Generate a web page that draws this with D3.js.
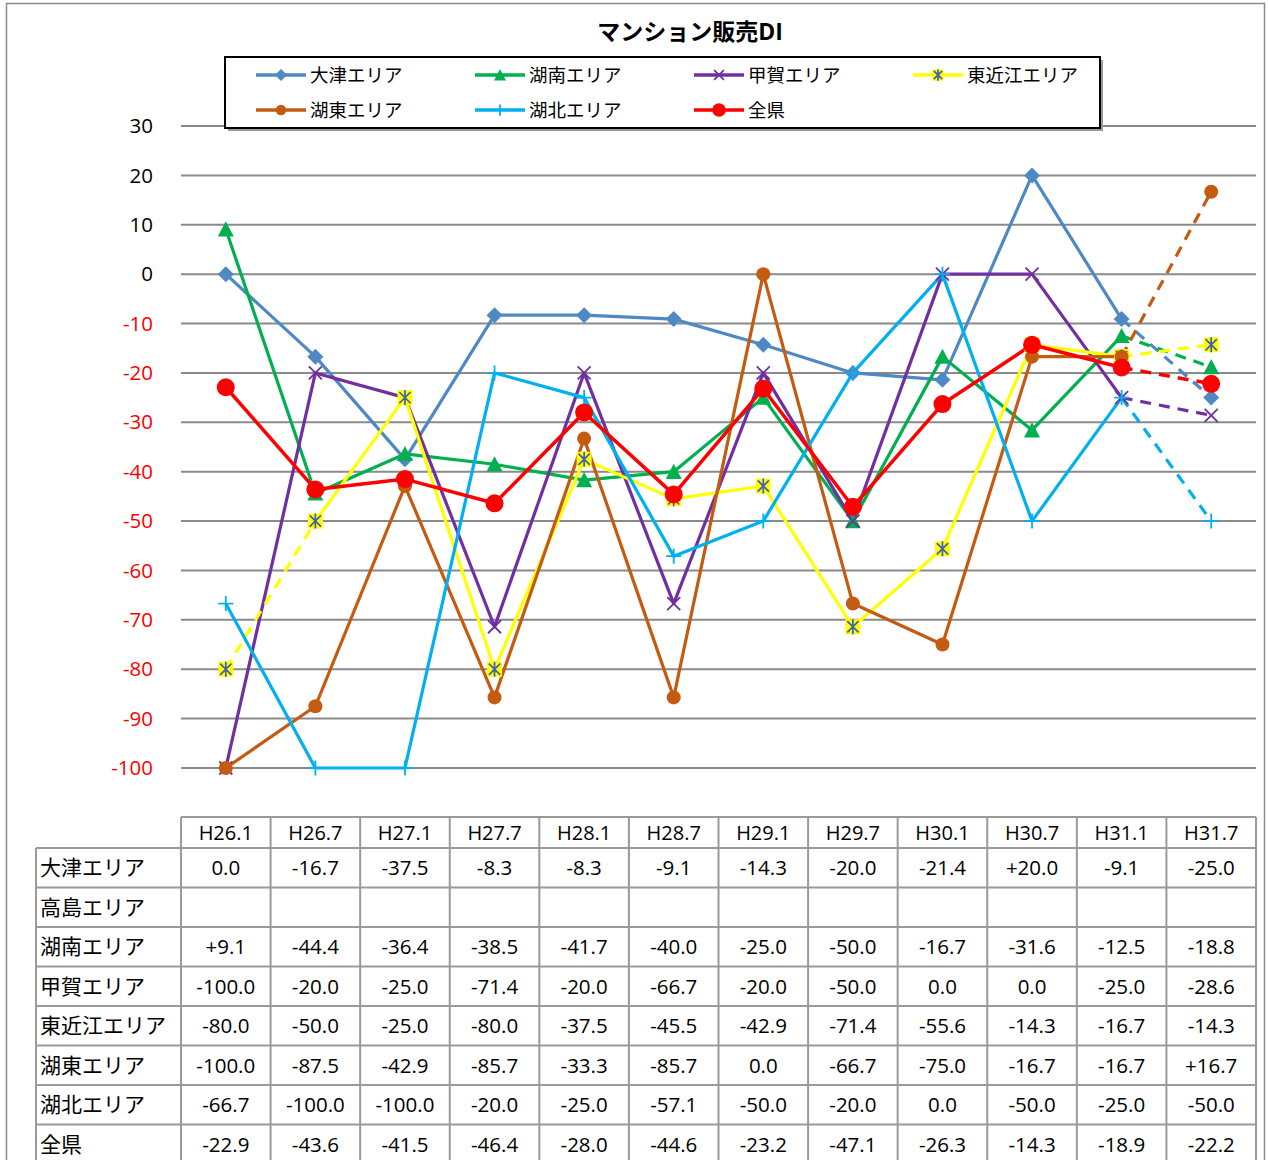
<!DOCTYPE html>
<html>
<head>
<meta charset="utf-8">
<script src="https://cdnjs.cloudflare.com/ajax/libs/d3/7.8.5/d3.min.js"></script>
<style>
  body { margin: 0; background: #fff; }
  text { font-family: "Open Sans", "Noto Sans CJK JP", sans-serif; }
</style>
</head>
<body>
<svg id="chart" width="1268" height="1160"></svg>
<script>
// periods (x categories)
var periods = ["H26.1", "H26.7", "H27.1", "H27.7", "H28.1", "H28.7", "H29.1", "H29.7", "H30.1", "H30.7", "H31.1", "H31.7"];

// DI values per area
var otsu      = [0.0, -16.7, -37.5, -8.3, -8.3, -9.1, -14.3, -20.0, -21.4, 20.0, -9.1, -25.0];
var takashima = [null, null, null, null, null, null, null, null, null, null, null, null];
var konan     = [9.1, -44.4, -36.4, -38.5, -41.7, -40.0, -25.0, -50.0, -16.7, -31.6, -12.5, -18.8];
var koka      = [-100.0, -20.0, -25.0, -71.4, -20.0, -66.7, -20.0, -50.0, 0.0, 0.0, -25.0, -28.6];
var higashiOmi = [-80.0, -50.0, -25.0, -80.0, -37.5, -45.5, -42.9, -71.4, -55.6, -14.3, -16.7, -14.3];
var koto      = [-100.0, -87.5, -42.9, -85.7, -33.3, -85.7, 0.0, -66.7, -75.0, -16.7, -16.7, 16.7];
var kohoku    = [-66.7, -100.0, -100.0, -20.0, -25.0, -57.1, -50.0, -20.0, 0.0, -50.0, -25.0, -50.0];
var zenken    = [-22.9, -43.6, -41.5, -46.4, -28.0, -44.6, -23.2, -47.1, -26.3, -14.3, -18.9, -22.2];

// table rows (高島 has no data) and plotted series (legend order)
var tableNames = ["大津エリア", "高島エリア", "湖南エリア", "甲賀エリア", "東近江エリア", "湖東エリア", "湖北エリア", "全県"];
var tableValues = [otsu, takashima, konan, koka, higashiOmi, koto, kohoku, zenken];
var seriesNames = ["大津エリア", "湖南エリア", "甲賀エリア", "東近江エリア", "湖東エリア", "湖北エリア", "全県"];
var seriesValues = [otsu, konan, koka, higashiOmi, koto, kohoku, zenken];
// segments (index of start point) drawn as estimate (dashed)
var dashedSegs = [[10], [10], [10], [0, 10], [10], [10], [10]];
var yTicks = [30, 20, 10, 0, -10, -20, -30, -40, -50, -60, -70, -80, -90, -100];

function drawChart() {
    var svg = d3.select("#chart");

    var colors = ["#4f89c4", "#00b050", "#7030a0", "#ffff00", "#c55a11", "#00b0f0", "#ff0000"];
    var markers = ["diamond", "triangle", "cross", "star", "circle", "plus", "bigcircle"];

    var plotLeft = 181, plotRight = 1256;

    var x = d3.scaleBand().domain(periods).range([plotLeft, plotRight]),
        y = d3.scaleLinear().domain([-100, 30]).range([768, 126]);

    function cx(i) { return x(periods[i]) + x.bandwidth() / 2; }

    // outer frame
    svg.append("rect")
       .attr("x", 6.5).attr("y", 3.5)
       .attr("width", 1258).attr("height", 1180)
       .attr("fill", "none")
       .attr("stroke", "#8c8c8c")
       .attr("stroke-width", 1.5);

    // title
    svg.append("text")
       .attr("x", 690)
       .attr("y", 40)
       .attr("text-anchor", "middle")
       .attr("font-size", "23px")
       .attr("font-weight", "bold")
       .text("マンション販売DI");

    // gridlines
    svg.append("g")
       .selectAll("line")
       .data(yTicks)
       .enter().append("line")
       .attr("x1", plotLeft).attr("x2", plotRight)
       .attr("y1", function(d) { return y(d); })
       .attr("y2", function(d) { return y(d); })
       .attr("stroke", "#8a8a8a")
       .attr("stroke-width", 2);

    // y axis labels
    svg.append("g")
       .selectAll("text")
       .data(yTicks)
       .enter().append("text")
       .attr("x", 153)
       .attr("y", function(d) { return y(d); })
       .attr("dy", "0.35em")
       .attr("text-anchor", "end")
       .attr("font-size", "20.5px")
       .attr("fill", function(d) { return d < 0 ? "#ff0000" : "#000"; })
       .text(function(d) { return d; });

    // legend
    var legend = svg.append("g");
    legend.append("rect")
          .attr("x", 228).attr("y", 60)
          .attr("width", 875).attr("height", 71)
          .attr("fill", "#9a9a9a");
    legend.append("rect")
          .attr("x", 225).attr("y", 57)
          .attr("width", 875).attr("height", 71)
          .attr("fill", "#fff")
          .attr("stroke", "#000")
          .attr("stroke-width", 2);

    seriesNames.forEach(function(name, s) {
        var col = s < 4 ? s : s - 4,
            row = s < 4 ? 0 : 1,
            lx = 256 + col * 219,
            ly = 75 + row * 35;
        legend.append("line")
              .attr("x1", lx).attr("x2", lx + 50)
              .attr("y1", ly).attr("y2", ly)
              .attr("stroke", colors[s])
              .attr("stroke-width", 3.5);
        drawMarker(legend, markers[s], colors[s], lx + 25, ly, 0.75);
        legend.append("text")
              .attr("x", lx + 54)
              .attr("y", ly)
              .attr("dy", "0.36em")
              .attr("font-size", "18.5px")
              .text(name);
    });

    // lines
    var line = d3.line()
                 .x(function(d) { return cx(d.i); })
                 .y(function(d) { return y(d.v); });

    var lines = svg.append("g");
    seriesValues.forEach(function(vals, s) {
        // group consecutive segments of the same style
        var runs = [];
        for (var i = 0; i < vals.length - 1; i++) {
            var dashed = dashedSegs[s].indexOf(i) >= 0;
            var last = runs[runs.length - 1];
            if (last && last.dashed === dashed) {
                last.pts.push({ i: i + 1, v: vals[i + 1] });
            } else {
                runs.push({ dashed: dashed, pts: [{ i: i, v: vals[i] }, { i: i + 1, v: vals[i + 1] }] });
            }
        }
        runs.forEach(function(r) {
            lines.append("path")
                 .attr("d", line(r.pts))
                 .attr("fill", "none")
                 .attr("stroke", colors[s])
                 .attr("stroke-width", s === 6 ? 3.5 : 3.2)
                 .attr("stroke-linejoin", "round")
                 .attr("stroke-dasharray", r.dashed ? "11,8" : null);
        });
    });

    // markers
    seriesValues.forEach(function(vals, s) {
        var g = svg.append("g");
        vals.forEach(function(v, i) {
            drawMarker(g, markers[s], colors[s], cx(i), y(v), 1);
        });
    });

    // table
    var table = svg.append("g"),
        headTop = 817, headBottom = 848, rowH = 39.5, labelLeft = 36,
        gridColor = "#9a9a9a",
        tableBottom = headBottom + rowH * tableNames.length;

    table.append("line")
         .attr("x1", plotLeft).attr("x2", plotRight)
         .attr("y1", headTop).attr("y2", headTop)
         .attr("stroke", gridColor).attr("stroke-width", 2);

    d3.range(tableNames.length + 1).forEach(function(r) {
        var yy = headBottom + r * rowH;
        table.append("line")
             .attr("x1", labelLeft).attr("x2", plotRight)
             .attr("y1", yy).attr("y2", yy)
             .attr("stroke", gridColor).attr("stroke-width", 2);
    });

    table.append("line")
         .attr("x1", labelLeft).attr("x2", labelLeft)
         .attr("y1", headBottom).attr("y2", tableBottom)
         .attr("stroke", gridColor).attr("stroke-width", 2);

    d3.range(periods.length + 1).forEach(function(c) {
        var xx = c < periods.length ? x(periods[c]) : plotRight;
        table.append("line")
             .attr("x1", xx).attr("x2", xx)
             .attr("y1", headTop).attr("y2", tableBottom)
             .attr("stroke", gridColor).attr("stroke-width", 2);
    });

    table.selectAll(".head")
         .data(periods)
         .enter().append("text")
         .attr("class", "head")
         .attr("x", function(d, i) { return cx(i); })
         .attr("y", (headTop + headBottom) / 2)
         .attr("dy", "0.36em")
         .attr("text-anchor", "middle")
         .attr("font-size", "20px")
         .text(function(d) { return d; });

    function fmt(v) {
        if (v === null) return "";
        return (v > 0 ? "+" : "") + v.toFixed(1);
    }

    tableNames.forEach(function(name, r) {
        var cy = headBottom + r * rowH + rowH / 2;
        table.append("text")
             .attr("x", labelLeft + 4)
             .attr("y", cy)
             .attr("dy", "0.36em")
             .attr("font-size", "21px")
             .text(name);
        tableValues[r].forEach(function(v, i) {
            table.append("text")
                 .attr("x", cx(i))
                 .attr("y", cy)
                 .attr("dy", "0.36em")
                 .attr("text-anchor", "middle")
                 .attr("font-size", "20.5px")
                 .text(fmt(v));
        });
    });
}

function drawMarker(g, type, color, px, py, k) {
    if (type === "diamond") {
        var d = 8 * k;
        g.append("path")
         .attr("d", "M" + px + "," + (py - d) + "L" + (px + d) + "," + py + "L" + px + "," + (py + d) + "L" + (px - d) + "," + py + "Z")
         .attr("fill", color);
    } else if (type === "triangle") {
        var t = 8 * k;
        g.append("path")
         .attr("d", "M" + px + "," + (py - t) + "L" + (px + t) + "," + (py + t * 0.9) + "L" + (px - t) + "," + (py + t * 0.9) + "Z")
         .attr("fill", color);
    } else if (type === "cross") {
        var c = 6.5 * k;
        g.append("path")
         .attr("d", "M" + (px - c) + "," + (py - c) + "L" + (px + c) + "," + (py + c) + "M" + (px - c) + "," + (py + c) + "L" + (px + c) + "," + (py - c))
         .attr("stroke", color)
         .attr("stroke-width", 1.8);
    } else if (type === "plus") {
        var p = 7.5 * k;
        g.append("path")
         .attr("d", "M" + (px - p) + "," + py + "L" + (px + p) + "," + py + "M" + px + "," + (py - p) + "L" + px + "," + (py + p))
         .attr("stroke", color)
         .attr("stroke-width", 1.8);
    } else if (type === "star") {
        var s = 7.5 * k;
        g.append("rect")
         .attr("x", px - s).attr("y", py - s)
         .attr("width", 2 * s).attr("height", 2 * s)
         .attr("fill", color);
        var a = s * 0.75;
        g.append("path")
         .attr("d", "M" + px + "," + (py - s) + "L" + px + "," + (py + s) +
                    "M" + (px - a) + "," + (py - a) + "L" + (px + a) + "," + (py + a) +
                    "M" + (px - a) + "," + (py + a) + "L" + (px + a) + "," + (py - a))
         .attr("stroke", "#3f5fb8")
         .attr("stroke-width", 1.7);
    } else if (type === "circle") {
        g.append("circle")
         .attr("cx", px).attr("cy", py)
         .attr("r", 7 * k)
         .attr("fill", color);
    } else if (type === "bigcircle") {
        g.append("circle")
         .attr("cx", px).attr("cy", py)
         .attr("r", 9 * k)
         .attr("fill", color);
    }
}

drawChart();
</script>
</body>
</html>
